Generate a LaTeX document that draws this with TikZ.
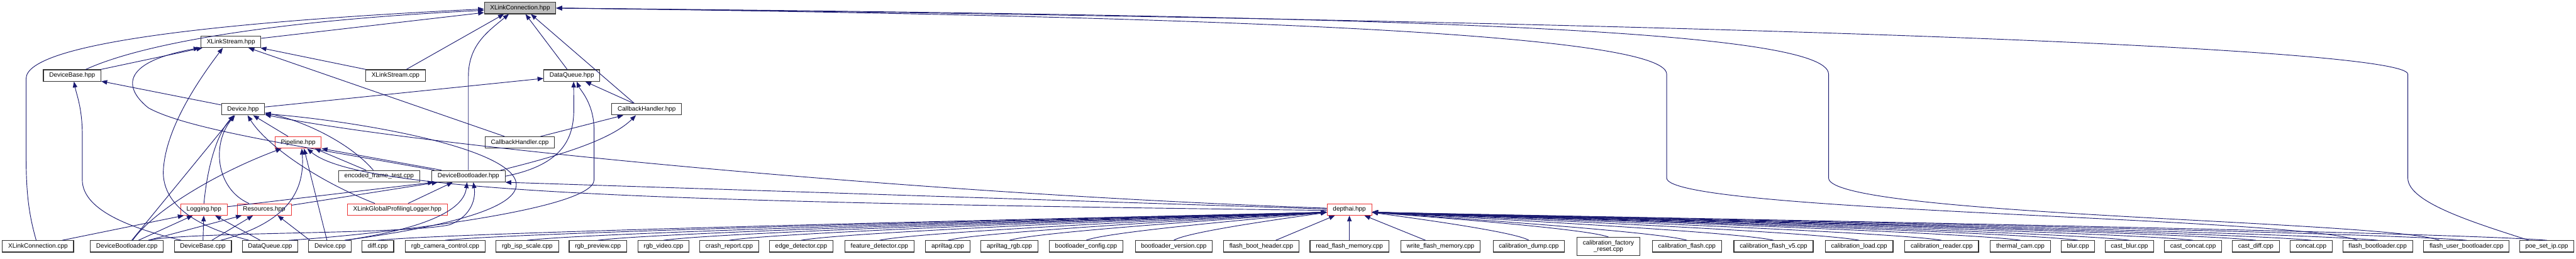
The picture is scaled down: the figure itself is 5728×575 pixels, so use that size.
\documentclass[tikz,border=0pt]{standalone}
\usepackage{fontspec}
\setmainfont{Liberation Sans}
\usetikzlibrary{arrows.meta, calc}

\definecolor{doxblue}{HTML}{191970}
\definecolor{doxred}{HTML}{EE3333}
\newcommand{\dxfont}{\fontsize{14pt}{15pt}\selectfont}

\begin{document}
\begin{tikzpicture}[
    x=1pt, y=-1pt,
    file/.style={draw=black!80, line width=1.5pt, fill=white, font=\dxfont,
        inner xsep=13pt, inner ysep=0pt, minimum height=25.5pt,
        text height=10.5pt, text depth=3pt},
    hdr/.style={file, draw=doxred},
    focus/.style={file, fill=black!25},
    inc/.style={draw=doxblue, line width=1.3pt, -{Triangle[length=13pt, width=10pt]}},
]
\fill[white] (0,0) rectangle (5728,575);
\useasboundingbox (0,0) rectangle (5728,575);

% =============================================================================
% Headers
% =============================================================================
\node[focus] (xlc) at (1156.5,18) {XLinkConnection.hpp};
\node[file] (xsh) at (513.5,93) {XLinkStream.hpp};
\node[file] (dbh) at (160.5,168) {DeviceBase.hpp};
\node[file] (xsc) at (879.5,168) {XLinkStream.cpp};
\node[file] (dqh) at (1271.5,168) {DataQueue.hpp};
\node[file] (dev) at (540.5,243) {Device.hpp};
\node[file] (cbh) at (1438,243) {CallbackHandler.hpp};
\node[hdr] (pip) at (663,317) {Pipeline.hpp};
\node[file] (cbc) at (1156,317) {CallbackHandler.cpp};
\node[file] (eft) at (843,392) {encoded\_frame\_test.cpp};
\node[file] (dblh) at (1041.5,392) {DeviceBootloader.hpp};
\node[hdr] (log) at (453.5,466) {Logging.hpp};
\node[hdr] (res) at (587.5,466) {Resources.hpp};
\node[hdr] (xgl) at (883.5,466) {XLinkGlobalProfilingLogger.hpp};
\node[hdr] (dai) at (3000.5,466) {depthai.hpp};

% =============================================================================
% Sources and examples
% =============================================================================
\node[file] (xcc) at (84.5,548) {XLinkConnection.cpp};
\node[file] (dblc) at (282,548) {DeviceBootloader.cpp};
\node[file] (dbc) at (451,548) {DeviceBase.cpp};
\node[file] (dqc) at (600.5,548) {DataQueue.cpp};
\node[file] (dvc) at (734,548) {Device.cpp};

\foreach \n/\x/\lbl in {diff/840/diff.cpp, rgbcc/990/rgb\_camera\_control.cpp,
    rgbisp/1172.5/rgb\_isp\_scale.cpp, rgbprev/1329.5/rgb\_preview.cpp,
    rgbvid/1475.5/rgb\_video.cpp, crash/1621.5/crash\_report.cpp,
    edge/1781.5/edge\_detector.cpp, feat/1955.5/feature\_detector.cpp,
    april/2107.5/apriltag.cpp, aprgb/2244.5/apriltag\_rgb.cpp,
    blcfg/2415/bootloader\_config.cpp, blver/2610/bootloader\_version.cpp,
    fbh/2804.5/flash\_boot\_header.cpp, rfm/3000.5/read\_flash\_memory.cpp,
    wfm/3203/write\_flash\_memory.cpp, caldump/3399.5/calibration\_dump.cpp,
    calfl/3751/calibration\_flash.cpp, calv5/3943.5/calibration\_flash\_v5.cpp,
    calld/4134/calibration\_load.cpp, calrd/4317.5/calibration\_reader.cpp,
    therm/4492.5/thermal\_cam.cpp, blur/4620.5/blur.cpp,
    cblur/4735/cast\_blur.cpp, cconcat/4876.5/cast\_concat.cpp,
    cdiff/5016/cast\_diff.cpp, concat/5139/concat.cpp,
    fbl/5287/flash\_bootloader.cpp, fubl/5484.5/flash\_user\_bootloader.cpp,
    poe/5663/poe\_set\_ip.cpp} {
    \node[file] (\n) at (\x,548) {\lbl};
}
\node[file, align=center, text height=, text depth=, minimum height=40pt]
    (calfr) at (3576.5,548) {calibration\_factory\\\_reset.cpp};

% =============================================================================
% Into XLinkConnection.hpp
% =============================================================================
\draw[inc] ([xshift=-4pt]xcc.north) .. controls (62,470) and (58,420) .. (58,340)
    -- (58,175) .. controls (58,95) and (500,48) .. ($(xlc.west)+(0,2)$);
\draw[inc] ([xshift=30pt]dbh.north) .. controls (320,95) and (620,45) .. ($(xlc.west)+(0,5)$);
\draw[inc] (xsh) -- ($(xlc.west)+(0,10)$);
\draw[inc] (xsc) -- ([xshift=-36pt]xlc.south);
\draw[inc] (dblh.north) -- (1041.5,170) .. controls (1041.5,100) and (1085,70) .. ([xshift=-25pt]xlc.south);
\draw[inc] (dqh) -- ([xshift=12pt]xlc.south);
\draw[inc] ([xshift=-28pt]cbh.north) -- ([xshift=24pt]xlc.south);

% Long lines round the right
\draw[inc] ([xshift=-45pt]fbl.north) .. controls (5100,482) and (3706,472) .. (3706,396)
    -- (3706,165) .. controls (3706,70) and (2600,35) .. (xlc.east);
\draw[inc] ([xshift=-60pt]fubl.north) .. controls (5300,490) and (4066,480) .. (4066,396)
    -- (4066,165) .. controls (4066,60) and (3000,35) .. (xlc.east);
\draw[inc] ([xshift=-40pt]poe.north) .. controls (5500,495) and (5354,450) .. (5354,396)
    -- (5354,165) .. controls (5354,110) and (4000,50) .. (xlc.east);

% =============================================================================
% Into XLinkStream.hpp and DeviceBase.hpp
% =============================================================================
\draw[inc] (dbh) -- (xsh);
\draw[inc] (xsc) -- (xsh);
\draw[inc] ([xshift=-34pt]cbc.north) -- (xsh);
\draw[inc] ([xshift=-47pt]dqc.north) .. controls (440,505) and (365,460) .. (363,385)
    .. controls (365,290) and (440,180) .. ([xshift=-18pt]xsh.south);
\draw[inc] ([xshift=-76pt]dblh.north) .. controls (700,330) and (420,290) .. (330,240)
    .. controls (280,200) and (260,140) .. ([xshift=-70pt]xsh.south);
\draw[inc] ([xshift=-48pt]dbc.north) .. controls (300,510) and (183,470) .. (183,400)
    -- (183,300) .. controls (183,240) and (170,210) .. ([xshift=4pt]dbh.south);
\draw[inc] (dev) -- (dbh);

% =============================================================================
% Into DataQueue.hpp and CallbackHandler.hpp
% =============================================================================
\draw[inc] (dev) -- (dqh);
\draw[inc] (cbh) -- (dqh);
\draw[inc] (dblh.east) .. controls (1260,365) and (1276,300) .. (1276,240) -- ([xshift=4pt]dqh.south);
\draw[inc] ([xshift=42pt]dqc.north) .. controls (800,525) and (1321,470) .. (1321,400)
    -- (1321,290) .. controls (1321,230) and (1290,200) .. ([xshift=11pt]dqh.south);
\draw[inc] ([xshift=46pt]cbc.north) -- ([xshift=-52pt]cbh.south);
\draw[inc] ([xshift=72pt]dblh.north) .. controls (1250,345) and (1360,310) .. ([xshift=-24pt]cbh.south);

% =============================================================================
% Into Device.hpp and Pipeline.hpp
% =============================================================================
\draw[inc] (pip) -- (dev);
\draw[inc] (dblc) -- ([xshift=-20pt]dev.south);
\draw[inc] (log.north) .. controls (460,380) and (480,300) .. ([xshift=-20pt]dev.south);
\draw[inc] ([xshift=-34pt]res.north) .. controls (480,420) and (470,320) .. ([xshift=-18pt]dev.south);
\draw[inc] ([xshift=-50pt]xgl.north) .. controls (700,400) and (590,320) .. ([xshift=10pt]dev.south);
\draw[inc] ([xshift=-13pt]eft.north) .. controls (780,320) and (680,270) .. ($(dev.east)+(0,8)$);
\draw[inc] ([xshift=33pt]dvc.north) .. controls (950,510) and (1150,470) .. (1148,410)
    .. controls (1145,330) and (800,270) .. ($(dev.east)+(0,10)$);
\draw[inc] ($(dai.west)+(0,-3)$) .. controls (2000,430) and (900,320) .. ($(dev.east)+(0,12)$);

\draw[inc] ([xshift=13pt]dblc.north) .. controls (340,470) and (480,385) .. ([xshift=-37pt]pip.south);
\draw[inc] ([xshift=40pt]dbc.north) .. controls (620,500) and (680,440) .. ([xshift=8pt]pip.south);
\draw[inc] ([xshift=-7pt]dvc.north) -- ([xshift=13pt]pip.south);
\draw[inc] ($(dai.west)+(0,2)$) .. controls (1500,450) and (800,430) .. ([xshift=20pt]pip.south);
\draw[inc] ([xshift=-29pt]eft.north) -- ([xshift=37pt]pip.south);
\draw[inc] ([xshift=-60pt]dblh.north) -- (pip.south east);

% =============================================================================
% Into DeviceBootloader.hpp
% =============================================================================
\draw[inc] (log) -- ([xshift=5pt]dblh.south west);
\draw[inc] (res) -- ([xshift=14pt]dblh.south west);
\draw[inc] ([xshift=24pt]xgl.north) -- ([xshift=-35pt]dblh.south);
\draw[inc] ([xshift=33pt]dvc.north) .. controls (900,515) and (1030,480) .. ([xshift=-3pt]dblh.south);
\draw[inc] ([xshift=48pt]dblc.north) .. controls (420,515) and (900,522) .. (1000,500)
    .. controls (1050,480) and (1058,440) .. ([xshift=11pt]dblh.south);
\draw[inc] ($(dai.west)+(0,-1)$) -- (dblh.south east);

% =============================================================================
% Into Logging.hpp and Resources.hpp
% =============================================================================
\draw[inc] ([xshift=54pt]xcc.north) -- ([xshift=-45pt]log.south);
\draw[inc] ([xshift=26pt]dblc.north) -- ([xshift=-25pt]log.south);
\draw[inc] (dbc) -- (log);
\draw[inc] ([xshift=-22pt]dqc.north) -- ([xshift=25pt]log.south);
\draw[inc] ([xshift=48pt]dblc.north) -- ([xshift=-50pt]res.south);
\draw[inc] ([xshift=20pt]dbc.north) -- ([xshift=-25pt]res.south);
\draw[inc] ([xshift=-45pt]dvc.north) -- ([xshift=30pt]res.south);

% =============================================================================
% Into depthai.hpp
% =============================================================================
\coordinate (daiL) at ($(dai.west)+(0,6)$);
\coordinate (daiR) at ($(dai.east)+(0,6)$);
\foreach \n in {diff, rgbcc, rgbisp, rgbprev, rgbvid, crash, edge, feat, april, aprgb, blcfg, blver} {
    \draw[inc] (\n.north) .. controls ($(\n.north)!0.1!(daiL)+(0,-15)$) and ($(daiL)!0.08!(\n.north)$) .. (daiL);
}
\draw[inc] (fbh) -- (dai);
\draw[inc] (rfm) -- (dai);
\draw[inc] (wfm) -- (dai);
\foreach \n in {caldump, calfr, calfl, calv5, calld, calrd, therm, blur, cblur, cconcat, cdiff, concat, fbl, fubl, poe} {
    \draw[inc] (\n.north) .. controls ($(\n.north)!0.1!(daiR)+(0,-15)$) and ($(daiR)!0.08!(\n.north)$) .. (daiR);
}

\end{tikzpicture}
\end{document}
